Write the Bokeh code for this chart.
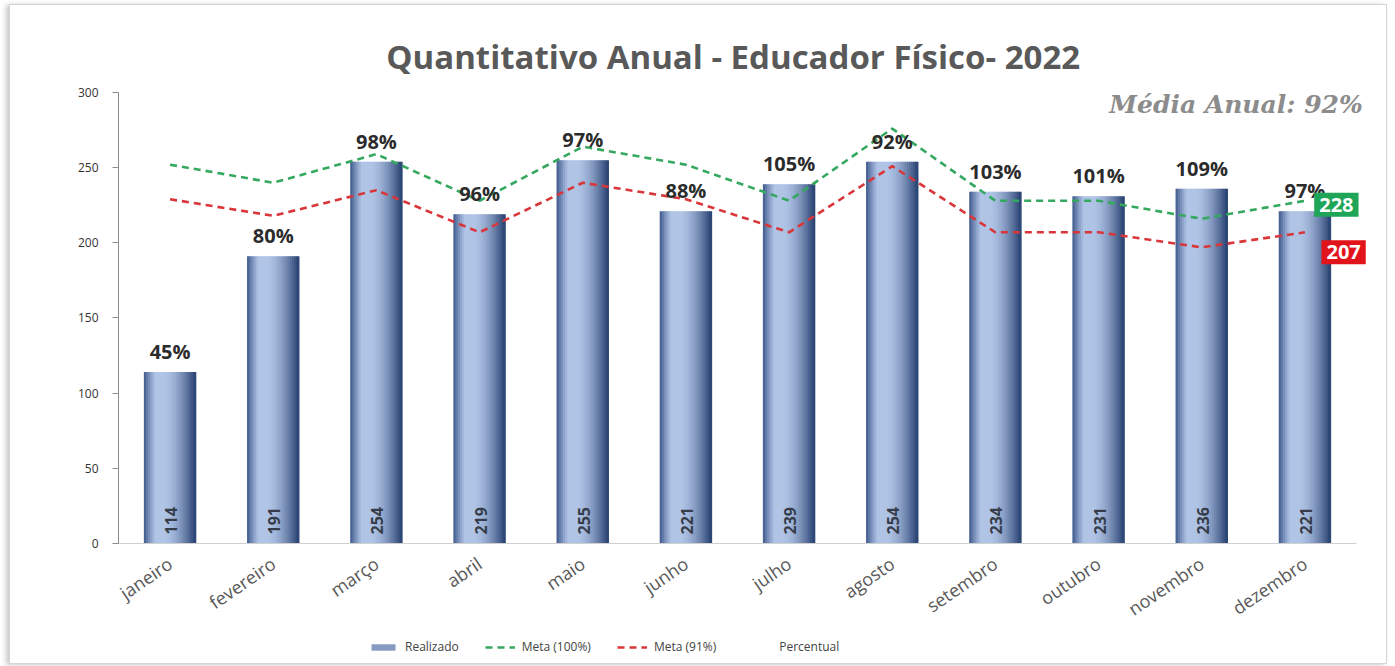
import math
from bokeh.plotting import figure
from bokeh.models import (ColumnDataSource, Range1d, Label, Legend, LegendItem,
                          FixedTicker)
from bokeh.transform import dodge
from bokeh.core.properties import value
from bokeh.embed import file_html
from bokeh.resources import INLINE

months = ["janeiro", "fevereiro", "março", "abril", "maio", "junho", "julho",
          "agosto", "setembro", "outubro", "novembro", "dezembro"]
realizado = [114, 191, 254, 219, 255, 221, 239, 254, 234, 231, 236, 221]
meta100 = [252, 240, 259, 228, 264, 252, 228, 276, 228, 228, 216, 228]
meta91 = [229, 218, 235, 207, 240, 229, 207, 251, 207, 207, 197, 207]
percentual = ["45%", "80%", "98%", "96%", "97%", "88%", "105%", "92%",
              "103%", "101%", "109%", "97%"]
y_ticks = [0, 50, 100, 150, 200, 250, 300]
title_text = "Quantitativo Anual  - Educador Físico- 2022"
media_text = "Média Anual: 92%"

# category slots: month i occupies [i, i+1], centred on i + 0.5
xpos = [i + 0.5 for i in range(len(months))]
n_cat = len(months)

src = ColumnDataSource(dict(x=xpos, month=months, realizado=realizado,
                            meta100=meta100, meta91=meta91, pct=percentual,
                            rlabel=[str(v) for v in realizado]))

p = figure(x_range=Range1d(0, 12.31), y_range=Range1d(-81.2, 357.9),
           width=1378, height=660, output_backend="svg",
           toolbar_location=None,
           min_border_left=108, min_border_right=0,
           min_border_top=0, min_border_bottom=0)
p.title.visible = False
p.outline_line_color = None
p.xgrid.grid_line_color = None
p.ygrid.grid_line_color = None
p.background_fill_color = "white"
p.border_fill_color = "white"
p.styles = {"box-shadow": "-3px 1px 5px rgba(0,0,0,0.22)",
            "border": "1px solid #d4d4d4",
            "margin-left": "9px", "margin-top": "4px"}

# gradient bars built from thin vertical strips
N = 24
bw = 0.5
dark_l = (55, 82, 134)
dark_r = (38, 64, 112)
light = (176, 196, 230)
bar_renderers = []
for i in range(N):
    t = (i + 0.5) / N
    off = -bw / 2 + t * bw
    peak = 0.40
    if t < peak:
        f = min(1.0, (t / 0.22)) ** 0.8
        dark = dark_l
    else:
        f = max(0.0, 1 - ((t - peak) / (1 - peak)) ** 1.6)
        dark = dark_r
    c = tuple(int(dark[k] + (light[k] - dark[k]) * f) for k in range(3))
    col = "#%02x%02x%02x" % c
    r = p.vbar(x=dodge("x", off), top="realizado", width=bw / N * 1.4,
               source=src, fill_color=col, line_color=None)
    bar_renderers.append(r)

g = p.line(x="x", y="meta100", source=src, line_color="#34a85e",
           line_width=2.6, line_dash="7 5")
rr = p.line(x="x", y="meta91", source=src, line_color="#d9363a",
            line_width=2.6, line_dash="7 5")
pct_r = p.line(x="x", y="meta91", source=src, line_alpha=0)

p.text(x="x", y="realizado", text="pct", source=src, text_align="center",
       text_baseline="bottom", y_offset=-7, text_font=value("Open Sans"),
       text_font_style="bold", text_font_size="20px", text_color="#2b2b2b")
p.text(x="x", y=0, text="rlabel", source=src, text_align="left",
       text_baseline="middle", angle=math.pi / 2, x_offset=1, y_offset=-9,
       text_font=value("Open Sans"), text_font_style="bold",
       text_font_size="16px", text_color="#363d4a")

# axes
p.yaxis.ticker = FixedTicker(ticks=y_ticks)
p.yaxis.bounds = (0, 300)
p.yaxis.axis_line_color = "#8c8c8c"
p.yaxis.major_tick_line_color = "#8c8c8c"
p.yaxis.major_tick_out = 6
p.yaxis.major_tick_in = 0
p.yaxis.minor_tick_line_color = None
p.yaxis.major_label_text_font = "Open Sans"
p.yaxis.major_label_text_font_size = "12px"
p.yaxis.major_label_text_color = "#333333"
p.yaxis.major_label_standoff = 14

p.xaxis.fixed_location = 0
p.xaxis.bounds = (0, n_cat)
p.xaxis.ticker = FixedTicker(ticks=xpos)
p.xaxis.major_label_overrides = {x: m for x, m in zip(xpos, months)}
p.xaxis.axis_line_color = "#d0d0d0"
p.xaxis.major_tick_line_color = None
p.xaxis.minor_tick_line_color = None
p.xaxis.major_label_orientation = 0.6
p.xaxis.major_label_text_font = "Open Sans"
p.xaxis.major_label_text_font_size = "18px"
p.xaxis.major_label_text_color = "#595959"
p.xaxis.major_label_standoff = 12

# title and annotations
p.add_layout(Label(x=n_cat / 2, y=324, text=title_text,
                   text_align="center", text_baseline="middle",
                   text_font="Open Sans", text_font_style="bold",
                   text_font_size="33px", text_color="#595959"))
p.add_layout(Label(x=12.06, y=292, text=media_text, text_align="right",
                   text_baseline="middle", text_font="DejaVu Serif",
                   text_font_style="bold italic", text_font_size="25px",
                   text_color="#8c8c8c"))
p.add_layout(Label(x=n_cat - 0.41, y=meta100[-1], y_offset=-4,
                   text=str(meta100[-1]), text_align="left",
                   text_baseline="middle", text_font="Open Sans",
                   text_font_style="bold", text_font_size="20px",
                   text_color="white", background_fill_color="#1ea557",
                   padding=5))
p.add_layout(Label(x=n_cat - 0.34, y=meta91[-1], y_offset=-20,
                   text=str(meta91[-1]), text_align="left",
                   text_baseline="middle", text_font="Open Sans",
                   text_font_style="bold", text_font_size="20px",
                   text_color="white", background_fill_color="#e2141b",
                   padding=5))

legend = Legend(items=[
    LegendItem(label="Realizado", renderers=[bar_renderers[N // 2 + 4]]),
    LegendItem(label="Meta (100%)", renderers=[g]),
    LegendItem(label="Meta (91%)", renderers=[rr]),
    LegendItem(label="Percentual", renderers=[pct_r]),
], orientation="horizontal", location=(250, 10), label_text_font="Open Sans",
    label_text_font_size="12px", label_text_color="#444444", glyph_width=30,
    glyph_height=8, spacing=26, label_standoff=7, background_fill_alpha=0,
    border_line_color=None, padding=4)
p.add_layout(legend, "center")

open("out.html", "w").write(file_html(p, INLINE))
